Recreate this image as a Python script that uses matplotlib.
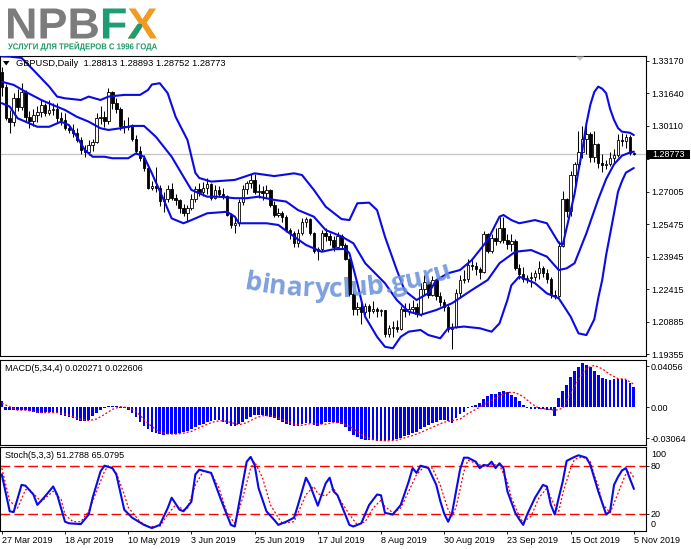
import matplotlib
matplotlib.use("Agg")
import numpy as np
import matplotlib.pyplot as plt
from matplotlib.patches import Rectangle, PathPatch, Polygon
from matplotlib.textpath import TextPath, text_to_path
from matplotlib.font_manager import FontProperties
from matplotlib.transforms import Affine2D, blended_transform_factory

plt.rcParams['font.family'] = ['Liberation Sans', 'DejaVu Sans']

# ------------------------------------------------------------------ data
symbol = "GBPUSD,Daily"
date_labels = ["27 Mar 2019", "18 Apr 2019", "10 May 2019", "3 Jun 2019", "25 Jun 2019",
               "17 Jul 2019", "8 Aug 2019", "30 Aug 2019", "23 Sep 2019", "15 Oct 2019", "5 Nov 2019"]
date_pos = [0, 16, 32, 48, 64, 80, 96, 112, 128, 144, 160]

open_ = [1.3262, 1.3195, 1.3045, 1.3030, 1.3140, 1.3100, 1.3170, 1.3050, 1.3035, 1.3060,
         1.3075, 1.3110, 1.3070, 1.3085, 1.3090, 1.3045, 1.3040, 1.3000, 1.2990, 1.2975,
         1.2945, 1.2895, 1.2885, 1.2920, 1.2935, 1.3045, 1.3050, 1.3035, 1.3170, 1.3120,
         1.3090, 1.3010, 1.3005, 1.3010, 1.2950, 1.2890, 1.2860, 1.2810, 1.2720, 1.2725,
         1.2720, 1.2655, 1.2665, 1.2715, 1.2670, 1.2660, 1.2625, 1.2600, 1.2625, 1.2665,
         1.2715, 1.2700, 1.2720, 1.2735, 1.2670, 1.2710, 1.2690, 1.2680, 1.2590, 1.2545,
         1.2555, 1.2650, 1.2715, 1.2740, 1.2755, 1.2700, 1.2702, 1.2695, 1.2710, 1.2640,
         1.2590, 1.2600, 1.2580, 1.2520, 1.2505, 1.2460, 1.2505, 1.2560, 1.2570, 1.2505,
         1.2420, 1.2430, 1.2505, 1.2490, 1.2475, 1.2440, 1.2490, 1.2450, 1.2385, 1.2220,
         1.2150, 1.2160, 1.2135, 1.2165, 1.2140, 1.2150, 1.2140, 1.2142, 1.2030, 1.2060,
         1.2065, 1.2055, 1.2150, 1.2140, 1.2150, 1.2160, 1.2125, 1.2245, 1.2275, 1.2215,
         1.2285, 1.2210, 1.2180, 1.2160, 1.2055, 1.2065, 1.2225, 1.2285, 1.2288, 1.2355,
         1.2350, 1.2335, 1.2325, 1.2500, 1.2420, 1.2485, 1.2470, 1.2530, 1.2475, 1.2455,
         1.2470, 1.2340, 1.2315, 1.2290, 1.2295, 1.2300, 1.2320, 1.2340, 1.2320, 1.2290,
         1.2215, 1.2210, 1.2445, 1.2665, 1.2610, 1.2780, 1.2830, 1.2885, 1.2950, 1.2970,
         1.2865, 1.2925, 1.2835, 1.2825, 1.2830, 1.2860, 1.2875, 1.2945, 1.2940, 1.2960,
         1.28813]
high = [1.3285, 1.3205, 1.3085, 1.3165, 1.3185, 1.3210, 1.3180, 1.3080, 1.3090, 1.3105,
        1.3130, 1.3120, 1.3130, 1.3120, 1.3120, 1.3075, 1.3070, 1.3015, 1.3020, 1.3000,
        1.2960, 1.2920, 1.2945, 1.2950, 1.3070, 1.3105, 1.3080, 1.3190, 1.3175, 1.3140,
        1.3100, 1.3040, 1.3050, 1.3020, 1.2965, 1.2915, 1.2875, 1.2830, 1.2750, 1.2815,
        1.2730, 1.2700, 1.2730, 1.2740, 1.2690, 1.2665, 1.2645, 1.2640, 1.2690, 1.2725,
        1.2740, 1.2745, 1.2765, 1.2740, 1.2730, 1.2725, 1.2720, 1.2685, 1.2600, 1.2585,
        1.2665, 1.2730, 1.2750, 1.2785, 1.2785, 1.2735, 1.2725, 1.2730, 1.2715, 1.2655,
        1.2625, 1.2610, 1.2590, 1.2530, 1.2515, 1.2525, 1.2575, 1.2580, 1.2575, 1.2510,
        1.2440, 1.2520, 1.2530, 1.2505, 1.2490, 1.2510, 1.2500, 1.2460, 1.2390, 1.2240,
        1.2180, 1.2185, 1.2175, 1.2170, 1.2185, 1.2160, 1.2150, 1.2145, 1.2075, 1.2090,
        1.2095, 1.2165, 1.2175, 1.2175, 1.2190, 1.2175, 1.2270, 1.2310, 1.2285, 1.2305,
        1.2290, 1.2230, 1.2195, 1.2170, 1.2085, 1.2245, 1.2310, 1.2330, 1.2385, 1.2385,
        1.2370, 1.2345, 1.2515, 1.2505, 1.2500, 1.2530, 1.2580, 1.2580, 1.2500, 1.2500,
        1.2480, 1.2360, 1.2345, 1.2310, 1.2325, 1.2330, 1.2375, 1.2350, 1.2335, 1.2300,
        1.2240, 1.2470, 1.2705, 1.2670, 1.2800, 1.2840, 1.2985, 1.3010, 1.3010, 1.2980,
        1.2985, 1.2930, 1.2880, 1.2850, 1.2885, 1.2900, 1.2970, 1.2975, 1.2970, 1.2965,
        1.28893]
low = [1.3150, 1.3040, 1.2978, 1.3010, 1.3080, 1.3085, 1.3035, 1.3000, 1.3010, 1.3030,
       1.3050, 1.3055, 1.3060, 1.3060, 1.3030, 1.3015, 1.2990, 1.2975, 1.2960, 1.2935,
       1.2880, 1.2865, 1.2875, 1.2890, 1.2930, 1.3020, 1.3005, 1.3020, 1.3090, 1.3070,
       1.2990, 1.2975, 1.2990, 1.2940, 1.2880, 1.2845, 1.2800, 1.2715, 1.2710, 1.2700,
       1.2635, 1.2605, 1.2650, 1.2660, 1.2640, 1.2600, 1.2585, 1.2560, 1.2615, 1.2650,
       1.2680, 1.2680, 1.2690, 1.2660, 1.2665, 1.2675, 1.2665, 1.2585, 1.2530, 1.2505,
       1.2540, 1.2640, 1.2690, 1.2720, 1.2690, 1.2670, 1.2660, 1.2670, 1.2630, 1.2580,
       1.2580, 1.2560, 1.2510, 1.2480, 1.2440, 1.2440, 1.2495, 1.2535, 1.2495, 1.2410,
       1.2380, 1.2420, 1.2470, 1.2450, 1.2420, 1.2430, 1.2430, 1.2380, 1.2210, 1.2120,
       1.2120, 1.2080, 1.2110, 1.2105, 1.2130, 1.2110, 1.2115, 1.2015, 1.2015, 1.2015,
       1.2040, 1.2050, 1.2110, 1.2120, 1.2130, 1.2110, 1.2115, 1.2215, 1.2200, 1.2210,
       1.2190, 1.2165, 1.2140, 1.2040, 1.1960, 1.2060, 1.2200, 1.2270, 1.2275, 1.2330,
       1.2310, 1.2290, 1.2320, 1.2410, 1.2410, 1.2450, 1.2460, 1.2460, 1.2430, 1.2420,
       1.2330, 1.2290, 1.2275, 1.2270, 1.2250, 1.2280, 1.2290, 1.2300, 1.2270, 1.2200,
       1.2195, 1.2205, 1.2440, 1.2580, 1.2585, 1.2720, 1.2800, 1.2860, 1.2880, 1.2840,
       1.2840, 1.2810, 1.2795, 1.2805, 1.2820, 1.2830, 1.2865, 1.2915, 1.2905, 1.2875,
       1.28752]
close = [1.3195, 1.3045, 1.3030, 1.3140, 1.3100, 1.3170, 1.3050, 1.3035, 1.3060, 1.3075,
         1.3110, 1.3070, 1.3085, 1.3090, 1.3045, 1.3040, 1.3000, 1.2990, 1.2975, 1.2945,
         1.2895, 1.2885, 1.2920, 1.2935, 1.3045, 1.3050, 1.3035, 1.3170, 1.3120, 1.3090,
         1.3010, 1.3005, 1.3010, 1.2950, 1.2890, 1.2860, 1.2810, 1.2720, 1.2725, 1.2720,
         1.2655, 1.2665, 1.2715, 1.2670, 1.2660, 1.2625, 1.2600, 1.2625, 1.2665, 1.2715,
         1.2700, 1.2720, 1.2735, 1.2670, 1.2710, 1.2690, 1.2680, 1.2590, 1.2545, 1.2555,
         1.2650, 1.2715, 1.2740, 1.2755, 1.2700, 1.2702, 1.2695, 1.2710, 1.2640, 1.2590,
         1.2600, 1.2580, 1.2520, 1.2505, 1.2460, 1.2505, 1.2560, 1.2570, 1.2505, 1.2420,
         1.2430, 1.2505, 1.2490, 1.2475, 1.2440, 1.2490, 1.2450, 1.2385, 1.2220, 1.2150,
         1.2160, 1.2135, 1.2165, 1.2140, 1.2150, 1.2140, 1.2142, 1.2030, 1.2060, 1.2065,
         1.2055, 1.2150, 1.2140, 1.2150, 1.2160, 1.2125, 1.2245, 1.2275, 1.2215, 1.2285,
         1.2210, 1.2180, 1.2160, 1.2055, 1.2065, 1.2225, 1.2285, 1.2288, 1.2355, 1.2350,
         1.2335, 1.2325, 1.2500, 1.2420, 1.2485, 1.2470, 1.2530, 1.2475, 1.2455, 1.2470,
         1.2340, 1.2315, 1.2290, 1.2295, 1.2300, 1.2320, 1.2340, 1.2320, 1.2290, 1.2215,
         1.2210, 1.2445, 1.2665, 1.2610, 1.2780, 1.2830, 1.2885, 1.2950, 1.2970, 1.2865,
         1.2925, 1.2835, 1.2825, 1.2830, 1.2860, 1.2875, 1.2945, 1.2940, 1.2960, 1.28813,
         1.28773]

# Bollinger bands (at selected bars)
bb_up_idx = [0, 2, 5, 8, 12, 14, 16, 20, 22, 25, 27, 31, 35, 37, 38, 40, 42, 44, 47, 49,
             50, 53, 59, 64, 69, 74, 76, 79, 82, 86, 88, 90, 93, 95, 97, 100, 102, 105, 108, 110,
             113, 116, 119, 123, 126, 127, 129, 131, 135, 138, 141, 142, 143, 144, 145, 146, 147, 148, 149, 150,
             151, 152, 153, 154, 155, 156, 157, 159, 160]
bb_up = [1.3337, 1.3336, 1.3330, 1.3273, 1.3195, 1.3148, 1.3140, 1.3132, 1.3148, 1.3132,
         1.3148, 1.3156, 1.3156, 1.3179, 1.3205, 1.3211, 1.3164, 1.3053, 1.2944, 1.2789,
         1.2765, 1.2748, 1.2756, 1.2787, 1.2774, 1.2787, 1.2779, 1.2709, 1.2630, 1.2572,
         1.2567, 1.2646, 1.2649, 1.2614, 1.2489, 1.2332, 1.2235, 1.2191, 1.2223, 1.2285,
         1.2317, 1.2332, 1.2379, 1.2473, 1.2583, 1.2591, 1.2567, 1.2552, 1.2567, 1.2552,
         1.2460, 1.2450, 1.2530, 1.2610, 1.2690, 1.2800, 1.2900, 1.3020, 1.3110, 1.3170,
         1.3195, 1.3185, 1.3164, 1.3090, 1.3038, 1.3000, 1.2983, 1.2978, 1.2967]
bb_mid_idx = [0, 3, 6, 10, 13, 16, 19, 22, 25, 27, 30, 33, 36, 39, 43, 46, 48, 52, 55, 59,
              62, 65, 69, 72, 75, 79, 82, 86, 89, 92, 97, 100, 103, 106, 110, 114, 119, 123, 126, 130,
              134, 138, 141, 143, 145, 148, 151, 153, 155, 157, 159, 160]
bb_mid = [1.3218, 1.3203, 1.3171, 1.3132, 1.3108, 1.3085, 1.3053, 1.3030, 1.2999, 1.2991,
          1.2999, 1.3010, 1.3010, 1.2959, 1.2865, 1.2771, 1.2709, 1.2677, 1.2677, 1.2670,
          1.2670, 1.2677, 1.2662, 1.2654, 1.2614, 1.2583, 1.2520, 1.2490, 1.2458, 1.2364,
          1.2270, 1.2191, 1.2136, 1.2121, 1.2144, 1.2176, 1.2238, 1.2285, 1.2364, 1.2418,
          1.2426, 1.2395, 1.2332, 1.2340, 1.2364, 1.2505, 1.2665, 1.2760, 1.2830, 1.2870,
          1.2885, 1.2889]
bb_low_idx = [0, 2, 4, 6, 9, 12, 15, 17, 19, 21, 23, 26, 28, 32, 34, 36, 38, 41, 43, 46,
              48, 52, 57, 59, 60, 67, 70, 74, 77, 81, 84, 87, 88, 90, 92, 95, 97, 99, 101, 103,
              106, 108, 111, 113, 117, 121, 124, 126, 128, 129, 131, 135, 138, 141, 144, 146, 148, 150, 151, 152,
              153, 155, 156, 157, 158, 160]
bb_low = [1.3117, 1.3101, 1.3046, 1.3030, 1.3006, 1.3006, 1.3030, 1.3014, 1.2959, 1.2897,
          1.2865, 1.2865, 1.2858, 1.2858, 1.2881, 1.2865, 1.2787, 1.2662, 1.2575, 1.2552,
          1.2567, 1.2599, 1.2606, 1.2583, 1.2552, 1.2552, 1.2544, 1.2489, 1.2450, 1.2418,
          1.2430, 1.2431, 1.2411, 1.2270, 1.2112, 1.2018, 1.1971, 1.1964, 1.2018, 1.2042,
          1.2050, 1.2026, 1.2011, 1.2058, 1.2066, 1.2058, 1.2042, 1.2081, 1.2191, 1.2260,
          1.2301, 1.2270, 1.2222, 1.2199, 1.2113, 1.2034, 1.2026, 1.2100, 1.2200, 1.2285,
          1.2403, 1.2599, 1.2700, 1.2750, 1.2790, 1.2812]

# MACD(5,34,4) main (histogram), one value per bar
macd = [0.0058, -0.0025, -0.0030, -0.0030, -0.0028, -0.0025, -0.0030, -0.0040, -0.0050, -0.0055,
        -0.0055, -0.0050, -0.0048, -0.0050, -0.0060, -0.0072, -0.0085, -0.0098, -0.0110, -0.0125,
        -0.0135, -0.0138, -0.0120, -0.0090, -0.0060, -0.0030, -0.0010, 0.0012, 0.0015, 0.0010,
        -0.0005, -0.0010, -0.0030, -0.0060, -0.0100, -0.0140, -0.0180, -0.0215, -0.0240, -0.0255,
        -0.0262, -0.0268, -0.0265, -0.0262, -0.0260, -0.0255, -0.0245, -0.0230, -0.0210, -0.0190,
        -0.0175, -0.0160, -0.0140, -0.0130, -0.0125, -0.0128, -0.0140, -0.0160, -0.0180, -0.0185,
        -0.0165, -0.0140, -0.0115, -0.0095, -0.0080, -0.0075, -0.0080, -0.0085, -0.0095, -0.0110,
        -0.0125, -0.0140, -0.0160, -0.0178, -0.0188, -0.0180, -0.0160, -0.0150, -0.0155, -0.0170,
        -0.0180, -0.0160, -0.0148, -0.0145, -0.0148, -0.0152, -0.0165, -0.0190, -0.0230, -0.0270,
        -0.0295, -0.0310, -0.0318, -0.0322, -0.0325, -0.0328, -0.0332, -0.0330, -0.0325, -0.0320,
        -0.0315, -0.0300, -0.0285, -0.0270, -0.0255, -0.0240, -0.0215, -0.0190, -0.0170, -0.0150,
        -0.0140, -0.0125, -0.0120, -0.0135, -0.0150, -0.0110, -0.0070, -0.0045, -0.0005, 0.0010,
        0.0026, 0.0043, 0.0082, 0.0110, 0.0128, 0.0134, 0.0150, 0.0160, 0.0150, 0.0124,
        0.0098, 0.0059, 0.0026, -0.0007, -0.0015, -0.0020, -0.0018, -0.0020, -0.0023, -0.0030,
        -0.0085, 0.0090, 0.0157, 0.0223, 0.0295, 0.0354, 0.0400, 0.0432, 0.0415, 0.0400,
        0.0360, 0.0315, 0.0290, 0.0275, 0.0272, 0.0278, 0.0278, 0.0278, 0.0265, 0.0235,
        0.020271]
macd_sig_idx = list(range(0, 161, 2))
macd_sig = [0.0040, 0.0005, -0.0028, -0.0028, -0.0040, -0.0052, -0.0052, -0.0052, -0.0066, -0.0091,
            -0.0117, -0.0130, -0.0115, -0.0070, -0.0020, 0.0006, -0.0005, -0.0040, -0.0120, -0.0190,
            -0.0243, -0.0262, -0.0263, -0.0254, -0.0237, -0.0201, -0.0166, -0.0139, -0.0131, -0.0148,
            -0.0172, -0.0151, -0.0109, -0.0083, -0.0083, -0.0105, -0.0135, -0.0166, -0.0177, -0.0161,
            -0.0164, -0.0166, -0.0150, -0.0153, -0.0184, -0.0239, -0.0293, -0.0319, -0.0327, -0.0329,
            -0.0323, -0.0300, -0.0278, -0.0248, -0.0213, -0.0179, -0.0146, -0.0131, -0.0116, -0.0061,
            -0.0021, 0.0024, 0.0070, 0.0114, 0.0147, 0.0145, 0.0105, 0.0038, -0.0010, -0.0018,
            -0.0030, -0.0010, 0.0130, 0.0270, 0.0383, 0.0412, 0.0378, 0.0322, 0.0282, 0.0275,
            0.022606]

# Stochastic(5,3,3)
stoch_idx = [0, 2, 3, 5, 6, 8, 9, 11, 13, 14, 16, 17, 20, 22, 23, 25, 26, 28, 29, 31,
             33, 36, 38, 40, 42, 43, 45, 46, 48, 49, 50, 53, 55, 56, 58, 59, 60, 62, 63, 64,
             65, 67, 69, 70, 72, 74, 75, 77, 78, 80, 82, 83, 84, 85, 88, 89, 91, 93, 95, 96,
             97, 99, 101, 103, 104, 105, 106, 108, 110, 111, 112, 113, 114, 115, 116, 117, 118, 120, 121, 122,
             123, 124, 125, 126, 127, 128, 130, 131, 132, 133, 135, 137, 138, 139, 140, 141, 142, 143, 145, 146,
             148, 149, 151, 153, 154, 155, 156, 157, 158, 159, 160]
stoch_main = [69, 23, 22, 56, 55, 44, 31, 42, 54, 44, 10, 8, 7, 19, 40, 73, 80, 77, 69, 25,
              15, 6, 2, 6, 27, 40, 25, 23, 35, 69, 75, 71, 44, 31, 6, 4, 31, 85, 91, 81,
              52, 23, 12, 6, 10, 15, 31, 65, 56, 30, 58, 65, 48, 43, 6, 4, 8, 31, 44, 43,
              21, 19, 31, 60, 77, 71, 80, 77, 56, 36, 20, 10, 21, 48, 75, 90, 90, 85, 77, 81,
              80, 85, 77, 83, 77, 48, 21, 13, 6, 19, 40, 56, 54, 31, 19, 40, 60, 86, 91, 93,
              90, 81, 48, 19, 23, 56, 66, 74, 77, 64, 51.2788]
stoch_sig_idx = [0, 2, 4, 6, 7, 9, 10, 13, 15, 16, 18, 20, 22, 24, 26, 27, 29, 31, 32, 35,
                 37, 40, 42, 44, 46, 47, 49, 51, 53, 55, 57, 59, 61, 63, 64, 66, 68, 70, 71, 74,
                 75, 77, 79, 80, 82, 84, 85, 88, 90, 92, 94, 96, 97, 99, 101, 103, 105, 107, 109, 111,
                 112, 113, 114, 115, 116, 117, 118, 120, 122, 123, 126, 127, 128, 129, 131, 132, 134, 136, 138, 139,
                 140, 141, 142, 144, 145, 147, 149, 150, 151, 152, 154, 155, 157, 158, 159, 160]
stoch_sig = [77, 36, 27, 50, 50, 40, 35, 48, 38, 19, 10, 10, 23, 48, 73, 80, 71, 44, 28, 10,
             4, 4, 19, 31, 25, 27, 56, 73, 71, 52, 21, 8, 40, 77, 85, 65, 31, 15, 8, 10,
             21, 44, 54, 45, 42, 52, 42, 19, 6, 10, 27, 37, 29, 21, 27, 48, 69, 79, 77, 56,
             40, 25, 17, 28, 50, 73, 87, 83, 79, 81, 81, 70, 60, 40, 17, 9, 17, 40, 52, 40,
             30, 23, 45, 77, 88, 91, 85, 68, 55, 33, 21, 33, 58, 70, 73, 65.0795]

price_ticks = [1.33170, 1.31640, 1.30110, 1.28535, 1.27005, 1.25475, 1.23945, 1.22415, 1.20885, 1.19355]
hidden_tick = 1.28535          # label of this tick is covered by the current-price box
macd_ticks = [0.04056, 0.0, -0.03064]
stoch_levels = [80, 20]

# ------------------------------------------------------------------ layout helpers
W, H = 691, 549
fig = plt.figure(figsize=(W / 100, H / 100), dpi=100)
fig.patch.set_facecolor('white')
PX = Affine2D().scale(1.0 / W, 1.0 / H) + fig.transFigure   # pixel coords, y up


def axes_px(x0, y0, x1, y1):
    return fig.add_axes([x0 / W, 1 - y1 / H, (x1 - x0) / W, (y1 - y0) / H])


BX0, BDX = 1.8, 3.95          # pixel position of bar 0 and bar spacing
PANEL_R = 646
xlim = ((0 - BX0) / BDX, (PANEL_R - BX0) / BDX)

ax1 = axes_px(0, 56, PANEL_R, 356)
ax2 = axes_px(0, 359.6, PANEL_R, 445.3)
ax3 = axes_px(0, 447.3, PANEL_R, 531.3)

FS = 6.5
for ax in (ax1, ax2, ax3):
    ax.set_xlim(*xlim)
    ax.set_facecolor('white')
    for sp in ax.spines.values():
        sp.set_color('black')
        sp.set_linewidth(0.8)
    ax.yaxis.tick_right()
    ax.tick_params(axis='y', direction='out', length=2.2, width=0.6, pad=1.3,
                   labelsize=FS, colors='black')

# ------------------------------------------------------------------ main price panel
n = len(close)
idx = np.arange(n)
o = np.array(open_); c = np.array(close); h = np.array(high); l = np.array(low)
ax1.set_ylim(1.19275, 1.33390)
ax1.set_xticks([])
ax1.set_yticks(price_ticks)
ax1.set_yticklabels(["" if v == hidden_tick else f"{v:.5f}" for v in price_ticks])

ax1.axhline(c[-1], color='#c4c4c4', lw=0.9, zorder=1)
ax1.vlines(idx, l, h, color='black', lw=0.75, zorder=2)
up = c >= o
blo = np.minimum(o, c)
bh = np.maximum(np.abs(c - o), 0.00008)
ax1.bar(idx[up], bh[up], bottom=blo[up], width=0.62, color='white',
        edgecolor='black', linewidth=0.6, zorder=2.5)
ax1.bar(idx[~up], bh[~up], bottom=blo[~up], width=0.62, color='black',
        edgecolor='black', linewidth=0.6, zorder=2.5)

band_col = '#0a0ae8'
ax1.plot(bb_up_idx, bb_up, color=band_col, lw=1.5, zorder=3, solid_capstyle='round')
ax1.plot(bb_mid_idx, bb_mid, color=band_col, lw=1.5, zorder=3, solid_capstyle='round')
ax1.plot(bb_low_idx, bb_low, color=band_col, lw=1.5, zorder=3, solid_capstyle='round')

# shift marker (small grey triangle at top)
fig.add_artist(Polygon([(576, H - 56.5), (584, H - 56.5), (580, H - 61)], closed=True,
                       transform=PX, facecolor='#c8c8c8', edgecolor='none'))

# title with small triangle
fig.add_artist(Polygon([(3, H - 61), (9.5, H - 61), (6.2, H - 65.5)], closed=True,
                       transform=PX, facecolor='black', edgecolor='none'))
fig.text(16 / W, 1 - 63.3 / H,
         f"{symbol}  {open_[-1]:.5f} {high[-1]:.5f} {low[-1]:.5f} {close[-1]:.5f}",
         fontsize=6.7, va='center', ha='left', color='black')

# current price box
fig.add_artist(Rectangle((647, H - 159.3), 43, 9.8, transform=PX,
                         facecolor='black', edgecolor='none', zorder=5))
fig.text(668.5 / W, 1 - 154.5 / H, f"{close[-1]:.5f}", color='white', fontsize=FS,
         ha='center', va='center', zorder=6)

# ------------------------------------------------------------------ MACD panel
ax2.set_ylim(-0.03733, 0.04686)
ax2.set_xticks([])
ax2.set_yticks(macd_ticks)
ax2.set_yticklabels(['0.04056', '0.00', '-0.03064'])
ax2.bar(idx, macd, width=0.68, color='#0000ff', edgecolor='none', zorder=2)
ax2.plot(macd_sig_idx, macd_sig, color='#ff0000', lw=0.9, ls=(0, (1.6, 1.6)), zorder=3)
ax2.text(5 / PANEL_R, 0.895, f"MACD(5,34,4) {macd[-1]:.6f} {macd_sig[-1]:.6f}",
         transform=ax2.transAxes, fontsize=FS, va='center', ha='left', color='black')

# ------------------------------------------------------------------ Stochastic panel
ax3.set_ylim(-2, 103)
ax3.set_yticks(stoch_levels)
ax3.set_yticklabels([str(v) for v in stoch_levels])
for lv in stoch_levels:
    ax3.axhline(lv, color='#ff0000', lw=1.0, ls=(0, (7, 3)), zorder=1)
bt = blended_transform_factory(ax3.transAxes, ax3.transData)
ax3.text(651 / PANEL_R, 94.5, '100', transform=bt, fontsize=FS, va='center', ha='left')
ax3.text(651 / PANEL_R, 7.0, '0', transform=bt, fontsize=FS, va='center', ha='left')
ax3.plot(stoch_idx, stoch_main, color='#0a0ae8', lw=1.5, zorder=3)
ax3.plot(stoch_sig_idx, stoch_sig, color='#ff0000', lw=0.9, ls=(0, (1.6, 1.6)), zorder=2)
ax3.text(5 / PANEL_R, 0.9, f"Stoch(5,3,3) {stoch_main[-1]:.4f} {stoch_sig[-1]:.4f}",
         transform=ax3.transAxes, fontsize=FS, va='center', ha='left', color='black')
ax3.set_xticks(date_pos)
ax3.set_xticklabels(date_labels, ha='left', fontsize=FS)
ax3.tick_params(axis='x', direction='out', length=2.5, width=0.6, pad=1.0, colors='black')

# ------------------------------------------------------------------ logo
fpb = FontProperties(family='Liberation Sans', weight='bold')


def ext(s):
    return TextPath((0, 0), s, size=100, prop=fpb).get_extents()


def box_transform(tp, x0, y0, x1, y1):
    bb = tp.get_extents()
    return Affine2D().translate(-bb.x0, -bb.y0).scale((x1 - x0) / bb.width,
                                                       (y1 - y0) / bb.height).translate(x0, H - y1) + PX, bb


logo = TextPath((0, 0), "NPBFX", size=100, prop=fpb)
T, lbb = box_transform(logo, 8, 8.5, 157, 38.5)
b1 = (ext("NPB").x1 + (ext("NPBF").x1 - ext("F").width)) / 2
b2 = (ext("NPBF").x1 + (ext("NPBFX").x1 - ext("X").width)) / 2
xr = lbb.x1 + 10
yb, yt = lbb.y0 - 10, lbb.y1 + 10
for (xa, xb_, col) in [(lbb.x0 - 10, b1, '#7c7c7c'), (b1, b2, '#1d9d70'), (b2, xr, '#f29a22')]:
    pp = PathPatch(logo, transform=T, facecolor=col, edgecolor='none')
    clip = Rectangle((xa, yb), xb_ - xa, yt - yb, transform=T)
    pp.set_clip_path(clip)
    fig.add_artist(pp)
# green lower-left part of the X
xl_ = ext("NPBFX").x1 - ext("X").width
xm_ = (xl_ + lbb.x1) / 2
ym_ = (lbb.y0 + lbb.y1) / 2
pp = PathPatch(logo, transform=T, facecolor='#1d9d70', edgecolor='none')
pp.set_clip_path(Polygon([(xl_ - 2, yb), (xl_ - 2, ym_), (xm_, ym_), (xm_, yb)], closed=True, transform=T))
fig.add_artist(pp)

sub = TextPath((0, 0), "УСЛУГИ ДЛЯ ТРЕЙДЕРОВ С 1996 ГОДА", size=100, prop=fpb)
Ts, _ = box_transform(sub, 8, 41.6, 157, 51.0)
fig.add_artist(PathPatch(sub, transform=Ts, facecolor='#1f9a68', edgecolor='none'))

# ------------------------------------------------------------------ watermark on an arc
wm = "binaryclub.guru"
fpw = FontProperties(family='Open Sans', weight='bold', size=20)


def adv(s, fp):
    if not s:
        return 0.0
    w, _, _ = text_to_path.get_text_width_height_descent(s, fp, ismath=False)
    return w * 100 / 72.0


scale = 212.0 / adv(wm, fpw)
fpw = FontProperties(family='Open Sans', weight='bold', size=20 * scale)
XL, YB, R, XSTART = 326.0, 297.0, 420.0, 243.0
for i, ch in enumerate(wm):
    mid = (adv(wm[:i], fpw) + adv(wm[:i + 1], fpw)) / 2
    a = (XSTART - XL) + mid
    th = a / R
    xx = XL + R * np.sin(th)
    yy = YB - R * (1 - np.cos(th))
    fig.text(xx / W, 1 - yy / H, ch, fontproperties=fpw, color='#6b93db', alpha=0.88,
             rotation=np.degrees(th), rotation_mode='anchor', ha='center', va='baseline', zorder=4)

fig.savefig("out.png", dpi=100, facecolor='white')
